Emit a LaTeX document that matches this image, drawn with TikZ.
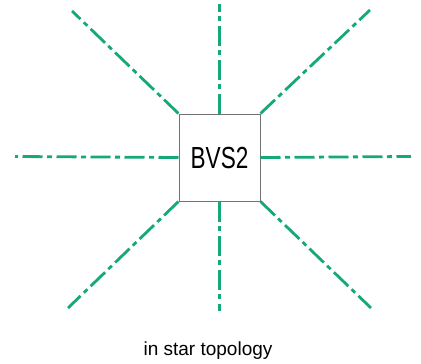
\documentclass[tikz,border=0pt]{standalone}
\usepackage{fontspec}
\setmainfont{Liberation Sans}
\definecolor{linkgreen}{RGB}{22,168,120}
\begin{document}
\begin{tikzpicture}[x=1pt,y=-1pt,
  link/.style={draw=linkgreen,line width=2.8pt,dash pattern=on 20pt off 4.5pt on 5pt off 4.5pt},
  station/.style={draw=black!55,line width=1pt,fill=white,minimum width=81pt,minimum height=87pt,inner sep=0pt}]
  \useasboundingbox (0,0) rectangle (421,364);
  % ends of the bus lines
  \coordinate (n)  at (219.5,4);
  \coordinate (s)  at (219.5,311);
  \coordinate (w)  at (15,156.5);
  \coordinate (e)  at (411,156.5);
  \coordinate (nw) at (72,11);
  \coordinate (ne) at (370,10);
  \coordinate (sw) at (68,308);
  \coordinate (se) at (371,308);
  % central station
  \node[station] (bvs) at (219.5,157.5) {\scalebox{0.74}[1]{\fontsize{30.5pt}{32pt}\selectfont BVS2}};
  \draw[link] (bvs.north) -- (n);
  \draw[link] (bvs.south) -- (s);
  \draw[link] (bvs.west) -- (w);
  \draw[link] (bvs.east) -- (e);
  \draw[link] (bvs.north west) -- (nw);
  \draw[link] (bvs.north east) -- (ne);
  \draw[link] (bvs.south west) -- (sw);
  \draw[link] (bvs.south east) -- (se);
  \node[anchor=base] (cap) at (208,355) {\fontsize{19pt}{21pt}\selectfont in star topology};
\end{tikzpicture}
\end{document}
